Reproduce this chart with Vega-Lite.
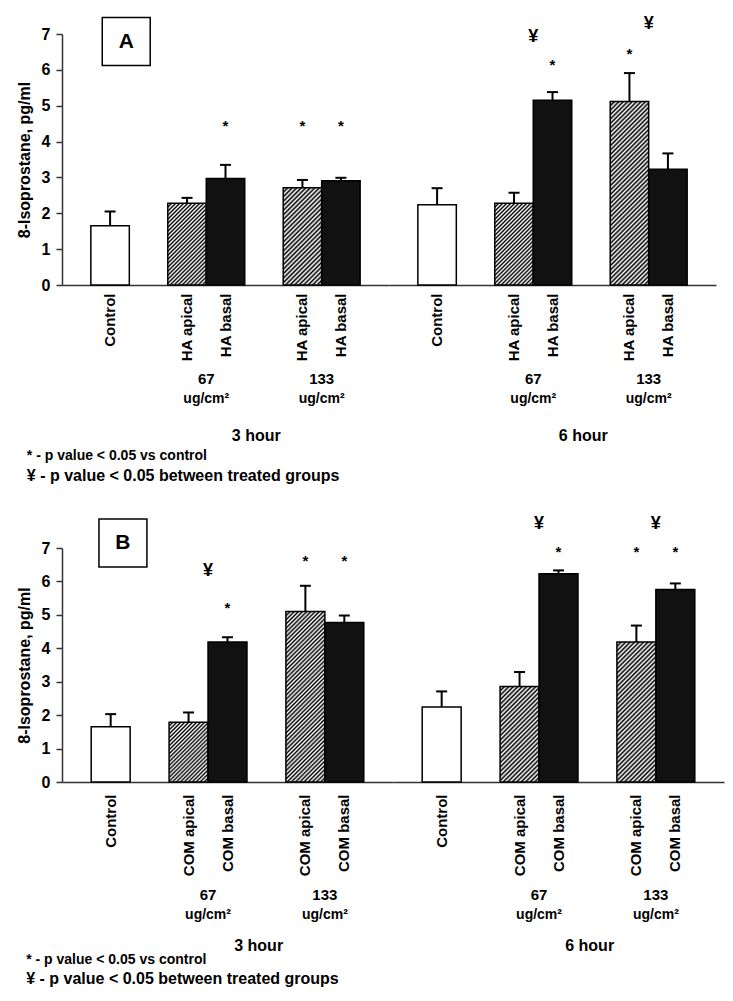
{
"$schema":"https://vega.github.io/schema/vega-lite/v6.json",
"padding":{"left":16,"top":14,"right":5,"bottom":5},
"background":"white",
"bounds":"flush",
"spacing":514,
"config":{"view":{"stroke":null},"font":"Liberation Sans","text":{"font":"Liberation Sans","fontWeight":"bold","color":"black"},
"axisY":{"labelFontSize":16,"labelFontWeight":"bold","labelColor":"black","titleFontSize":16,"titleFontWeight":"bold","titleColor":"black","grid":false,"domainColor":"#333","tickColor":"#333","domainWidth":1.5,"tickWidth":1.5,"tickSize":6,"labelPadding":6,"titlePadding":9,"labelFlush":false,"labelOverlap":false},
"axisX":{"ticks":false,"labelAngle":270,"labelAlign":"right","labelBaseline":"middle","labelFontSize":15,"labelFontWeight":"bold","labelColor":"black","domainColor":"#333","domainWidth":1.5,"labelOverlap":false}},
"datasets":{
"A":[
{"kind":"bar","time":"3 hour","bar":"Control","value":1.65,"hi":2.05},
{"kind":"bar","time":"3 hour","bar":"HA apical_67","value":2.28,"hi":2.43},
{"kind":"bar","time":"3 hour","bar":"HA basal_67","value":2.97,"hi":3.35,"star":4.52},
{"kind":"bar","time":"3 hour","bar":"HA apical_133","value":2.71,"hi":2.93,"star":4.52},
{"kind":"bar","time":"3 hour","bar":"HA basal_133","value":2.91,"hi":2.99,"star":4.52},
{"kind":"bar","time":"6 hour","bar":"Control","value":2.24,"hi":2.70},
{"kind":"bar","time":"6 hour","bar":"HA apical_67","value":2.28,"hi":2.57},
{"kind":"bar","time":"6 hour","bar":"HA basal_67","value":5.15,"hi":5.38,"star":6.21},
{"kind":"bar","time":"6 hour","bar":"HA apical_133","value":5.12,"hi":5.91,"star":6.53},
{"kind":"bar","time":"6 hour","bar":"HA basal_133","value":3.23,"hi":3.67},
{"kind":"yen","time":"6 hour","bar":"HA apical_67","yen":6.91},
{"kind":"yen","time":"6 hour","bar":"HA apical_133","yen":7.28},
{"kind":"box","time":"3 hour","bar":"Control","label":"A"},
{"kind":"dose","time":"3 hour","bar":"HA apical_67","dose":"67"},
{"kind":"dose","time":"3 hour","bar":"HA apical_133","dose":"133"},
{"kind":"dose","time":"6 hour","bar":"HA apical_67","dose":"67"},
{"kind":"dose","time":"6 hour","bar":"HA apical_133","dose":"133"},
{"kind":"hour","time":"3 hour","bar":"_g2"},
{"kind":"hour","time":"6 hour","bar":"_g2"},
{"kind":"note1","time":"3 hour","bar":"Control","note":"*  - p value < 0.05 vs control"},
{"kind":"note2","time":"3 hour","bar":"Control","note":"¥  - p value < 0.05 between treated groups"}
],
"B":[
{"kind":"bar","time":"3 hour","bar":"Control","value":1.65,"hi":2.03},
{"kind":"bar","time":"3 hour","bar":"COM apical_67","value":1.79,"hi":2.08},
{"kind":"bar","time":"3 hour","bar":"COM basal_67","value":4.19,"hi":4.33,"star":5.28},
{"kind":"bar","time":"3 hour","bar":"COM apical_133","value":5.10,"hi":5.87,"star":6.71},
{"kind":"bar","time":"3 hour","bar":"COM basal_133","value":4.77,"hi":4.98,"star":6.71},
{"kind":"bar","time":"6 hour","bar":"Control","value":2.24,"hi":2.71},
{"kind":"bar","time":"6 hour","bar":"COM apical_67","value":2.86,"hi":3.29},
{"kind":"bar","time":"6 hour","bar":"COM basal_67","value":6.23,"hi":6.33,"star":6.96},
{"kind":"bar","time":"6 hour","bar":"COM apical_133","value":4.19,"hi":4.68,"star":6.96},
{"kind":"bar","time":"6 hour","bar":"COM basal_133","value":5.76,"hi":5.94,"star":6.96},
{"kind":"yen","time":"3 hour","bar":"COM apical_67","yen":6.30},
{"kind":"yen","time":"6 hour","bar":"COM apical_67","yen":7.73},
{"kind":"yen","time":"6 hour","bar":"COM apical_133","yen":7.73},
{"kind":"box","time":"3 hour","bar":"Control","label":"B"},
{"kind":"dose","time":"3 hour","bar":"COM apical_67","dose":"67"},
{"kind":"dose","time":"3 hour","bar":"COM apical_133","dose":"133"},
{"kind":"dose","time":"6 hour","bar":"COM apical_67","dose":"67"},
{"kind":"dose","time":"6 hour","bar":"COM apical_133","dose":"133"},
{"kind":"hour","time":"3 hour","bar":"_g2"},
{"kind":"hour","time":"6 hour","bar":"_g2"},
{"kind":"note1","time":"3 hour","bar":"Control","note":"*  - p value < 0.05 vs control"},
{"kind":"note2","time":"3 hour","bar":"Control","note":"¥  - p value < 0.05 between treated groups"}
]
},
"vconcat":[
{
"data":{"name":"A"},
"facet":{"column":{"field":"time","type":"nominal","header":{"title":null,"labels":false}}},
"spacing":0,
"bounds":"flush",
"spec":{
"width":327,"height":251,
"layer":[
{"transform":[{"filter":"datum.kind == 'bar'"}],
"mark":{"type":"bar","stroke":"black","strokeWidth":1.5},
"encoding":{
"x":{"field":"bar","type":"nominal","scale":{"domain":["Control","_g1","HA apical_67","HA basal_67","_g2","HA apical_133","HA basal_133"],"paddingInner":0,"paddingOuter":0.75},
"axis":{"title":null,"labelPadding":8,"labelExpr":"split(datum.value, '_')[0]"}},
"y":{"field":"value","type":"quantitative","scale":{"domain":[0,7],"nice":false},"axis":{"values":[0,1,2,3,4,5,6,7],"title":"8-Isoprostane, pg/ml"}},
"fill":{"value":"white","condition":[
{"test":"indexof(datum.bar, 'basal') >= 0","value":"#111"},
{"test":"datum.bar == 'HA apical_67'","value":{"gradient":"linear","x1":0,"y1":0,"x2":0.5666,"y2":1.204,"stops":[
{"offset":0,"color":"#000"},{"offset":0.0167,"color":"#fff"},{"offset":0.0333,"color":"#000"},{"offset":0.05,"color":"#fff"},{"offset":0.0667,"color":"#000"},{"offset":0.0833,"color":"#fff"},{"offset":0.1,"color":"#000"},{"offset":0.1167,"color":"#fff"},{"offset":0.1333,"color":"#000"},{"offset":0.15,"color":"#fff"},{"offset":0.1667,"color":"#000"},{"offset":0.1833,"color":"#fff"},{"offset":0.2,"color":"#000"},{"offset":0.2167,"color":"#fff"},{"offset":0.2333,"color":"#000"},{"offset":0.25,"color":"#fff"},{"offset":0.2667,"color":"#000"},{"offset":0.2833,"color":"#fff"},{"offset":0.3,"color":"#000"},{"offset":0.3167,"color":"#fff"},{"offset":0.3333,"color":"#000"},{"offset":0.35,"color":"#fff"},{"offset":0.3667,"color":"#000"},{"offset":0.3833,"color":"#fff"},{"offset":0.4,"color":"#000"},{"offset":0.4167,"color":"#fff"},{"offset":0.4333,"color":"#000"},{"offset":0.45,"color":"#fff"},{"offset":0.4667,"color":"#000"},{"offset":0.4833,"color":"#fff"},{"offset":0.5,"color":"#000"},{"offset":0.5167,"color":"#fff"},{"offset":0.5333,"color":"#000"},{"offset":0.55,"color":"#fff"},{"offset":0.5667,"color":"#000"},{"offset":0.5833,"color":"#fff"},{"offset":0.6,"color":"#000"},{"offset":0.6167,"color":"#fff"},{"offset":0.6333,"color":"#000"},{"offset":0.65,"color":"#fff"},{"offset":0.6667,"color":"#000"},{"offset":0.6833,"color":"#fff"},{"offset":0.7,"color":"#000"},{"offset":0.7167,"color":"#fff"},{"offset":0.7333,"color":"#000"},{"offset":0.75,"color":"#fff"},{"offset":0.7667,"color":"#000"},{"offset":0.7833,"color":"#fff"},{"offset":0.8,"color":"#000"},{"offset":0.8167,"color":"#fff"},{"offset":0.8333,"color":"#000"},{"offset":0.85,"color":"#fff"},{"offset":0.8667,"color":"#000"},{"offset":0.8833,"color":"#fff"},{"offset":0.9,"color":"#000"},{"offset":0.9167,"color":"#fff"},{"offset":0.9333,"color":"#000"},{"offset":0.95,"color":"#fff"},{"offset":0.9667,"color":"#000"},{"offset":0.9833,"color":"#fff"},{"offset":1,"color":"#000"}]}},
{"test":"datum.bar == 'HA apical_133' && datum.time == '3 hour'","value":{"gradient":"linear","x1":0,"y1":0,"x2":0.4778,"y2":1.2068,"stops":[
{"offset":0,"color":"#000"},{"offset":0.0167,"color":"#fff"},{"offset":0.0333,"color":"#000"},{"offset":0.05,"color":"#fff"},{"offset":0.0667,"color":"#000"},{"offset":0.0833,"color":"#fff"},{"offset":0.1,"color":"#000"},{"offset":0.1167,"color":"#fff"},{"offset":0.1333,"color":"#000"},{"offset":0.15,"color":"#fff"},{"offset":0.1667,"color":"#000"},{"offset":0.1833,"color":"#fff"},{"offset":0.2,"color":"#000"},{"offset":0.2167,"color":"#fff"},{"offset":0.2333,"color":"#000"},{"offset":0.25,"color":"#fff"},{"offset":0.2667,"color":"#000"},{"offset":0.2833,"color":"#fff"},{"offset":0.3,"color":"#000"},{"offset":0.3167,"color":"#fff"},{"offset":0.3333,"color":"#000"},{"offset":0.35,"color":"#fff"},{"offset":0.3667,"color":"#000"},{"offset":0.3833,"color":"#fff"},{"offset":0.4,"color":"#000"},{"offset":0.4167,"color":"#fff"},{"offset":0.4333,"color":"#000"},{"offset":0.45,"color":"#fff"},{"offset":0.4667,"color":"#000"},{"offset":0.4833,"color":"#fff"},{"offset":0.5,"color":"#000"},{"offset":0.5167,"color":"#fff"},{"offset":0.5333,"color":"#000"},{"offset":0.55,"color":"#fff"},{"offset":0.5667,"color":"#000"},{"offset":0.5833,"color":"#fff"},{"offset":0.6,"color":"#000"},{"offset":0.6167,"color":"#fff"},{"offset":0.6333,"color":"#000"},{"offset":0.65,"color":"#fff"},{"offset":0.6667,"color":"#000"},{"offset":0.6833,"color":"#fff"},{"offset":0.7,"color":"#000"},{"offset":0.7167,"color":"#fff"},{"offset":0.7333,"color":"#000"},{"offset":0.75,"color":"#fff"},{"offset":0.7667,"color":"#000"},{"offset":0.7833,"color":"#fff"},{"offset":0.8,"color":"#000"},{"offset":0.8167,"color":"#fff"},{"offset":0.8333,"color":"#000"},{"offset":0.85,"color":"#fff"},{"offset":0.8667,"color":"#000"},{"offset":0.8833,"color":"#fff"},{"offset":0.9,"color":"#000"},{"offset":0.9167,"color":"#fff"},{"offset":0.9333,"color":"#000"},{"offset":0.95,"color":"#fff"},{"offset":0.9667,"color":"#000"},{"offset":0.9833,"color":"#fff"},{"offset":1,"color":"#000"}]}},
{"test":"datum.bar == 'HA apical_133'","value":{"gradient":"linear","x1":0,"y1":0,"x2":0.2428,"y2":1.1587,"stops":[
{"offset":0,"color":"#000"},{"offset":0.01,"color":"#fff"},{"offset":0.02,"color":"#000"},{"offset":0.03,"color":"#fff"},{"offset":0.04,"color":"#000"},{"offset":0.05,"color":"#fff"},{"offset":0.06,"color":"#000"},{"offset":0.07,"color":"#fff"},{"offset":0.08,"color":"#000"},{"offset":0.09,"color":"#fff"},{"offset":0.1,"color":"#000"},{"offset":0.11,"color":"#fff"},{"offset":0.12,"color":"#000"},{"offset":0.13,"color":"#fff"},{"offset":0.14,"color":"#000"},{"offset":0.15,"color":"#fff"},{"offset":0.16,"color":"#000"},{"offset":0.17,"color":"#fff"},{"offset":0.18,"color":"#000"},{"offset":0.19,"color":"#fff"},{"offset":0.2,"color":"#000"},{"offset":0.21,"color":"#fff"},{"offset":0.22,"color":"#000"},{"offset":0.23,"color":"#fff"},{"offset":0.24,"color":"#000"},{"offset":0.25,"color":"#fff"},{"offset":0.26,"color":"#000"},{"offset":0.27,"color":"#fff"},{"offset":0.28,"color":"#000"},{"offset":0.29,"color":"#fff"},{"offset":0.3,"color":"#000"},{"offset":0.31,"color":"#fff"},{"offset":0.32,"color":"#000"},{"offset":0.33,"color":"#fff"},{"offset":0.34,"color":"#000"},{"offset":0.35,"color":"#fff"},{"offset":0.36,"color":"#000"},{"offset":0.37,"color":"#fff"},{"offset":0.38,"color":"#000"},{"offset":0.39,"color":"#fff"},{"offset":0.4,"color":"#000"},{"offset":0.41,"color":"#fff"},{"offset":0.42,"color":"#000"},{"offset":0.43,"color":"#fff"},{"offset":0.44,"color":"#000"},{"offset":0.45,"color":"#fff"},{"offset":0.46,"color":"#000"},{"offset":0.47,"color":"#fff"},{"offset":0.48,"color":"#000"},{"offset":0.49,"color":"#fff"},{"offset":0.5,"color":"#000"},{"offset":0.51,"color":"#fff"},{"offset":0.52,"color":"#000"},{"offset":0.53,"color":"#fff"},{"offset":0.54,"color":"#000"},{"offset":0.55,"color":"#fff"},{"offset":0.56,"color":"#000"},{"offset":0.57,"color":"#fff"},{"offset":0.58,"color":"#000"},{"offset":0.59,"color":"#fff"},{"offset":0.6,"color":"#000"},{"offset":0.61,"color":"#fff"},{"offset":0.62,"color":"#000"},{"offset":0.63,"color":"#fff"},{"offset":0.64,"color":"#000"},{"offset":0.65,"color":"#fff"},{"offset":0.66,"color":"#000"},{"offset":0.67,"color":"#fff"},{"offset":0.68,"color":"#000"},{"offset":0.69,"color":"#fff"},{"offset":0.7,"color":"#000"},{"offset":0.71,"color":"#fff"},{"offset":0.72,"color":"#000"},{"offset":0.73,"color":"#fff"},{"offset":0.74,"color":"#000"},{"offset":0.75,"color":"#fff"},{"offset":0.76,"color":"#000"},{"offset":0.77,"color":"#fff"},{"offset":0.78,"color":"#000"},{"offset":0.79,"color":"#fff"},{"offset":0.8,"color":"#000"},{"offset":0.81,"color":"#fff"},{"offset":0.82,"color":"#000"},{"offset":0.83,"color":"#fff"},{"offset":0.84,"color":"#000"},{"offset":0.85,"color":"#fff"},{"offset":0.86,"color":"#000"},{"offset":0.87,"color":"#fff"},{"offset":0.88,"color":"#000"},{"offset":0.89,"color":"#fff"},{"offset":0.9,"color":"#000"},{"offset":0.91,"color":"#fff"},{"offset":0.92,"color":"#000"},{"offset":0.93,"color":"#fff"},{"offset":0.94,"color":"#000"},{"offset":0.95,"color":"#fff"},{"offset":0.96,"color":"#000"},{"offset":0.97,"color":"#fff"},{"offset":0.98,"color":"#000"},{"offset":0.99,"color":"#fff"},{"offset":1,"color":"#000"}]}}
]}
}},
{"transform":[{"filter":"datum.kind == 'bar'"}],"mark":{"type":"rule","strokeWidth":2,"color":"black"},
"encoding":{"x":{"field":"bar","type":"nominal","scale":{"domain":["Control","_g1","HA apical_67","HA basal_67","_g2","HA apical_133","HA basal_133"],"paddingInner":0,"paddingOuter":0.75}},
"y":{"field":"value","type":"quantitative","scale":{"domain":[0,7],"nice":false},"axis":{"values":[0,1,2,3,4,5,6,7],"title":"8-Isoprostane, pg/ml"}},"y2":{"field":"hi"}}},
{"transform":[{"filter":"datum.kind == 'bar'"}],"mark":{"type":"tick","size":11,"thickness":2,"color":"black","opacity":1},
"encoding":{"x":{"field":"bar","type":"nominal","scale":{"domain":["Control","_g1","HA apical_67","HA basal_67","_g2","HA apical_133","HA basal_133"],"paddingInner":0,"paddingOuter":0.75}},
"y":{"field":"hi","type":"quantitative","scale":{"domain":[0,7],"nice":false},"axis":{"values":[0,1,2,3,4,5,6,7],"title":"8-Isoprostane, pg/ml"}}}},
{"transform":[{"filter":"datum.kind == 'bar' && isValid(datum.star)"}],"mark":{"type":"text","fontSize":15,"dy":3,"baseline":"middle"},
"encoding":{"x":{"field":"bar","type":"nominal","scale":{"domain":["Control","_g1","HA apical_67","HA basal_67","_g2","HA apical_133","HA basal_133"],"paddingInner":0,"paddingOuter":0.75}},
"y":{"field":"star","type":"quantitative","scale":{"domain":[0,7],"nice":false},"axis":{"values":[0,1,2,3,4,5,6,7],"title":"8-Isoprostane, pg/ml"}},"text":{"value":"*"}}},
{"transform":[{"filter":"datum.kind == 'yen'"}],"mark":{"type":"text","fontSize":18,"baseline":"middle"},
"encoding":{"x":{"field":"bar","type":"nominal","bandPosition":1,"scale":{"domain":["Control","_g1","HA apical_67","HA basal_67","_g2","HA apical_133","HA basal_133"],"paddingInner":0,"paddingOuter":0.75}},
"y":{"field":"yen","type":"quantitative","scale":{"domain":[0,7],"nice":false},"axis":{"values":[0,1,2,3,4,5,6,7],"title":"8-Isoprostane, pg/ml"}},"text":{"value":"¥"}}},
{"transform":[{"filter":"datum.kind == 'box'"}],"mark":{"type":"point","shape":"square","size":2300,"fill":"white","stroke":"black","strokeWidth":1.5,"opacity":1,"filled":false},
"encoding":{"x":{"field":"bar","type":"nominal","bandPosition":0.92,"scale":{"domain":["Control","_g1","HA apical_67","HA basal_67","_g2","HA apical_133","HA basal_133"],"paddingInner":0,"paddingOuter":0.75}},
"y":{"datum":6.79,"type":"quantitative","scale":{"domain":[0,7],"nice":false},"axis":{"values":[0,1,2,3,4,5,6,7],"title":"8-Isoprostane, pg/ml"}}}},
{"transform":[{"filter":"datum.kind == 'box'"}],"mark":{"type":"text","fontSize":21,"baseline":"middle"},
"encoding":{"x":{"field":"bar","type":"nominal","bandPosition":0.92,"scale":{"domain":["Control","_g1","HA apical_67","HA basal_67","_g2","HA apical_133","HA basal_133"],"paddingInner":0,"paddingOuter":0.75}},
"y":{"datum":6.79,"type":"quantitative","scale":{"domain":[0,7],"nice":false},"axis":{"values":[0,1,2,3,4,5,6,7],"title":"8-Isoprostane, pg/ml"}},"text":{"field":"label"}}},
{"transform":[{"filter":"datum.kind == 'dose'"}],"mark":{"type":"text","fontSize":15,"baseline":"middle"},
"encoding":{"x":{"field":"bar","type":"nominal","bandPosition":1,"scale":{"domain":["Control","_g1","HA apical_67","HA basal_67","_g2","HA apical_133","HA basal_133"],"paddingInner":0,"paddingOuter":0.75}},
"y":{"datum":-2.62,"type":"quantitative","scale":{"domain":[0,7],"nice":false},"axis":{"values":[0,1,2,3,4,5,6,7],"title":"8-Isoprostane, pg/ml"}},"text":{"field":"dose"}}},
{"transform":[{"filter":"datum.kind == 'dose'"}],"mark":{"type":"text","fontSize":14,"baseline":"middle"},
"encoding":{"x":{"field":"bar","type":"nominal","bandPosition":1,"scale":{"domain":["Control","_g1","HA apical_67","HA basal_67","_g2","HA apical_133","HA basal_133"],"paddingInner":0,"paddingOuter":0.75}},
"y":{"datum":-3.18,"type":"quantitative","scale":{"domain":[0,7],"nice":false},"axis":{"values":[0,1,2,3,4,5,6,7],"title":"8-Isoprostane, pg/ml"}},"text":{"value":"ug/cm²"}}},
{"transform":[{"filter":"datum.kind == 'hour'"}],"mark":{"type":"text","fontSize":16,"baseline":"middle"},
"encoding":{"x":{"field":"bar","type":"nominal","bandPosition":0.3,"scale":{"domain":["Control","_g1","HA apical_67","HA basal_67","_g2","HA apical_133","HA basal_133"],"paddingInner":0,"paddingOuter":0.75}},
"y":{"datum":-4.2,"type":"quantitative","scale":{"domain":[0,7],"nice":false},"axis":{"values":[0,1,2,3,4,5,6,7],"title":"8-Isoprostane, pg/ml"}},"text":{"field":"time"}}},
{"transform":[{"filter":"datum.kind == 'note1'"}],"mark":{"type":"text","fontSize":14,"baseline":"middle","align":"left","dx":-64},
"encoding":{"x":{"field":"bar","type":"nominal","bandPosition":0,"scale":{"domain":["Control","_g1","HA apical_67","HA basal_67","_g2","HA apical_133","HA basal_133"],"paddingInner":0,"paddingOuter":0.75}},
"y":{"datum":-4.77,"type":"quantitative","scale":{"domain":[0,7],"nice":false},"axis":{"values":[0,1,2,3,4,5,6,7],"title":"8-Isoprostane, pg/ml"}},"text":{"field":"note"}}},
{"transform":[{"filter":"datum.kind == 'note2'"}],"mark":{"type":"text","fontSize":16,"baseline":"middle","align":"left","dx":-64},
"encoding":{"x":{"field":"bar","type":"nominal","bandPosition":0,"scale":{"domain":["Control","_g1","HA apical_67","HA basal_67","_g2","HA apical_133","HA basal_133"],"paddingInner":0,"paddingOuter":0.75}},
"y":{"datum":-5.34,"type":"quantitative","scale":{"domain":[0,7],"nice":false},"axis":{"values":[0,1,2,3,4,5,6,7],"title":"8-Isoprostane, pg/ml"}},"text":{"field":"note"}}}
]}
},
{
"data":{"name":"B"},
"facet":{"column":{"field":"time","type":"nominal","header":{"title":null,"labels":false}}},
"spacing":0,
"bounds":"flush",
"spec":{
"width":331,"height":234,
"layer":[
{"transform":[{"filter":"datum.kind == 'bar'"}],
"mark":{"type":"bar","stroke":"black","strokeWidth":1.5},
"encoding":{
"x":{"field":"bar","type":"nominal","scale":{"domain":["Control","_g1","COM apical_67","COM basal_67","_g2","COM apical_133","COM basal_133"],"paddingInner":0,"paddingOuter":0.75},
"axis":{"title":null,"labelPadding":12,"labelExpr":"split(datum.value, '_')[0]"}},
"y":{"field":"value","type":"quantitative","scale":{"domain":[0,7],"nice":false},"axis":{"values":[0,1,2,3,4,5,6,7],"title":"8-Isoprostane, pg/ml"}},
"fill":{"value":"white","condition":[
{"test":"indexof(datum.bar, 'basal') >= 0","value":"#111"},
{"test":"datum.bar == 'COM apical_67' && datum.time == '3 hour'","value":{"gradient":"linear","x1":0,"y1":0,"x2":0.7546,"y2":1.1596,"stops":[
{"offset":0,"color":"#000"},{"offset":0.02,"color":"#fff"},{"offset":0.04,"color":"#000"},{"offset":0.06,"color":"#fff"},{"offset":0.08,"color":"#000"},{"offset":0.1,"color":"#fff"},{"offset":0.12,"color":"#000"},{"offset":0.14,"color":"#fff"},{"offset":0.16,"color":"#000"},{"offset":0.18,"color":"#fff"},{"offset":0.2,"color":"#000"},{"offset":0.22,"color":"#fff"},{"offset":0.24,"color":"#000"},{"offset":0.26,"color":"#fff"},{"offset":0.28,"color":"#000"},{"offset":0.3,"color":"#fff"},{"offset":0.32,"color":"#000"},{"offset":0.34,"color":"#fff"},{"offset":0.36,"color":"#000"},{"offset":0.38,"color":"#fff"},{"offset":0.4,"color":"#000"},{"offset":0.42,"color":"#fff"},{"offset":0.44,"color":"#000"},{"offset":0.46,"color":"#fff"},{"offset":0.48,"color":"#000"},{"offset":0.5,"color":"#fff"},{"offset":0.52,"color":"#000"},{"offset":0.54,"color":"#fff"},{"offset":0.56,"color":"#000"},{"offset":0.58,"color":"#fff"},{"offset":0.6,"color":"#000"},{"offset":0.62,"color":"#fff"},{"offset":0.64,"color":"#000"},{"offset":0.66,"color":"#fff"},{"offset":0.68,"color":"#000"},{"offset":0.7,"color":"#fff"},{"offset":0.72,"color":"#000"},{"offset":0.74,"color":"#fff"},{"offset":0.76,"color":"#000"},{"offset":0.78,"color":"#fff"},{"offset":0.8,"color":"#000"},{"offset":0.82,"color":"#fff"},{"offset":0.84,"color":"#000"},{"offset":0.86,"color":"#fff"},{"offset":0.88,"color":"#000"},{"offset":0.9,"color":"#fff"},{"offset":0.92,"color":"#000"},{"offset":0.94,"color":"#fff"},{"offset":0.96,"color":"#000"},{"offset":0.98,"color":"#fff"},{"offset":1,"color":"#000"}]}},
{"test":"datum.bar == 'COM apical_133' && datum.time == '3 hour'","value":{"gradient":"linear","x1":0,"y1":0,"x2":0.2667,"y2":1.1675,"stops":[
{"offset":0,"color":"#000"},{"offset":0.01,"color":"#fff"},{"offset":0.02,"color":"#000"},{"offset":0.03,"color":"#fff"},{"offset":0.04,"color":"#000"},{"offset":0.05,"color":"#fff"},{"offset":0.06,"color":"#000"},{"offset":0.07,"color":"#fff"},{"offset":0.08,"color":"#000"},{"offset":0.09,"color":"#fff"},{"offset":0.1,"color":"#000"},{"offset":0.11,"color":"#fff"},{"offset":0.12,"color":"#000"},{"offset":0.13,"color":"#fff"},{"offset":0.14,"color":"#000"},{"offset":0.15,"color":"#fff"},{"offset":0.16,"color":"#000"},{"offset":0.17,"color":"#fff"},{"offset":0.18,"color":"#000"},{"offset":0.19,"color":"#fff"},{"offset":0.2,"color":"#000"},{"offset":0.21,"color":"#fff"},{"offset":0.22,"color":"#000"},{"offset":0.23,"color":"#fff"},{"offset":0.24,"color":"#000"},{"offset":0.25,"color":"#fff"},{"offset":0.26,"color":"#000"},{"offset":0.27,"color":"#fff"},{"offset":0.28,"color":"#000"},{"offset":0.29,"color":"#fff"},{"offset":0.3,"color":"#000"},{"offset":0.31,"color":"#fff"},{"offset":0.32,"color":"#000"},{"offset":0.33,"color":"#fff"},{"offset":0.34,"color":"#000"},{"offset":0.35,"color":"#fff"},{"offset":0.36,"color":"#000"},{"offset":0.37,"color":"#fff"},{"offset":0.38,"color":"#000"},{"offset":0.39,"color":"#fff"},{"offset":0.4,"color":"#000"},{"offset":0.41,"color":"#fff"},{"offset":0.42,"color":"#000"},{"offset":0.43,"color":"#fff"},{"offset":0.44,"color":"#000"},{"offset":0.45,"color":"#fff"},{"offset":0.46,"color":"#000"},{"offset":0.47,"color":"#fff"},{"offset":0.48,"color":"#000"},{"offset":0.49,"color":"#fff"},{"offset":0.5,"color":"#000"},{"offset":0.51,"color":"#fff"},{"offset":0.52,"color":"#000"},{"offset":0.53,"color":"#fff"},{"offset":0.54,"color":"#000"},{"offset":0.55,"color":"#fff"},{"offset":0.56,"color":"#000"},{"offset":0.57,"color":"#fff"},{"offset":0.58,"color":"#000"},{"offset":0.59,"color":"#fff"},{"offset":0.6,"color":"#000"},{"offset":0.61,"color":"#fff"},{"offset":0.62,"color":"#000"},{"offset":0.63,"color":"#fff"},{"offset":0.64,"color":"#000"},{"offset":0.65,"color":"#fff"},{"offset":0.66,"color":"#000"},{"offset":0.67,"color":"#fff"},{"offset":0.68,"color":"#000"},{"offset":0.69,"color":"#fff"},{"offset":0.7,"color":"#000"},{"offset":0.71,"color":"#fff"},{"offset":0.72,"color":"#000"},{"offset":0.73,"color":"#fff"},{"offset":0.74,"color":"#000"},{"offset":0.75,"color":"#fff"},{"offset":0.76,"color":"#000"},{"offset":0.77,"color":"#fff"},{"offset":0.78,"color":"#000"},{"offset":0.79,"color":"#fff"},{"offset":0.8,"color":"#000"},{"offset":0.81,"color":"#fff"},{"offset":0.82,"color":"#000"},{"offset":0.83,"color":"#fff"},{"offset":0.84,"color":"#000"},{"offset":0.85,"color":"#fff"},{"offset":0.86,"color":"#000"},{"offset":0.87,"color":"#fff"},{"offset":0.88,"color":"#000"},{"offset":0.89,"color":"#fff"},{"offset":0.9,"color":"#000"},{"offset":0.91,"color":"#fff"},{"offset":0.92,"color":"#000"},{"offset":0.93,"color":"#fff"},{"offset":0.94,"color":"#000"},{"offset":0.95,"color":"#fff"},{"offset":0.96,"color":"#000"},{"offset":0.97,"color":"#fff"},{"offset":0.98,"color":"#000"},{"offset":0.99,"color":"#fff"},{"offset":1,"color":"#000"}]}},
{"test":"datum.bar == 'COM apical_67'","value":{"gradient":"linear","x1":0,"y1":0,"x2":0.4917,"y2":1.2071,"stops":[
{"offset":0,"color":"#000"},{"offset":0.0167,"color":"#fff"},{"offset":0.0333,"color":"#000"},{"offset":0.05,"color":"#fff"},{"offset":0.0667,"color":"#000"},{"offset":0.0833,"color":"#fff"},{"offset":0.1,"color":"#000"},{"offset":0.1167,"color":"#fff"},{"offset":0.1333,"color":"#000"},{"offset":0.15,"color":"#fff"},{"offset":0.1667,"color":"#000"},{"offset":0.1833,"color":"#fff"},{"offset":0.2,"color":"#000"},{"offset":0.2167,"color":"#fff"},{"offset":0.2333,"color":"#000"},{"offset":0.25,"color":"#fff"},{"offset":0.2667,"color":"#000"},{"offset":0.2833,"color":"#fff"},{"offset":0.3,"color":"#000"},{"offset":0.3167,"color":"#fff"},{"offset":0.3333,"color":"#000"},{"offset":0.35,"color":"#fff"},{"offset":0.3667,"color":"#000"},{"offset":0.3833,"color":"#fff"},{"offset":0.4,"color":"#000"},{"offset":0.4167,"color":"#fff"},{"offset":0.4333,"color":"#000"},{"offset":0.45,"color":"#fff"},{"offset":0.4667,"color":"#000"},{"offset":0.4833,"color":"#fff"},{"offset":0.5,"color":"#000"},{"offset":0.5167,"color":"#fff"},{"offset":0.5333,"color":"#000"},{"offset":0.55,"color":"#fff"},{"offset":0.5667,"color":"#000"},{"offset":0.5833,"color":"#fff"},{"offset":0.6,"color":"#000"},{"offset":0.6167,"color":"#fff"},{"offset":0.6333,"color":"#000"},{"offset":0.65,"color":"#fff"},{"offset":0.6667,"color":"#000"},{"offset":0.6833,"color":"#fff"},{"offset":0.7,"color":"#000"},{"offset":0.7167,"color":"#fff"},{"offset":0.7333,"color":"#000"},{"offset":0.75,"color":"#fff"},{"offset":0.7667,"color":"#000"},{"offset":0.7833,"color":"#fff"},{"offset":0.8,"color":"#000"},{"offset":0.8167,"color":"#fff"},{"offset":0.8333,"color":"#000"},{"offset":0.85,"color":"#fff"},{"offset":0.8667,"color":"#000"},{"offset":0.8833,"color":"#fff"},{"offset":0.9,"color":"#000"},{"offset":0.9167,"color":"#fff"},{"offset":0.9333,"color":"#000"},{"offset":0.95,"color":"#fff"},{"offset":0.9667,"color":"#000"},{"offset":0.9833,"color":"#fff"},{"offset":1,"color":"#000"}]}},
{"test":"datum.bar == 'COM apical_133'","value":{"gradient":"linear","x1":0,"y1":0,"x2":0.3298,"y2":1.1863,"stops":[
{"offset":0,"color":"#000"},{"offset":0.0125,"color":"#fff"},{"offset":0.025,"color":"#000"},{"offset":0.0375,"color":"#fff"},{"offset":0.05,"color":"#000"},{"offset":0.0625,"color":"#fff"},{"offset":0.075,"color":"#000"},{"offset":0.0875,"color":"#fff"},{"offset":0.1,"color":"#000"},{"offset":0.1125,"color":"#fff"},{"offset":0.125,"color":"#000"},{"offset":0.1375,"color":"#fff"},{"offset":0.15,"color":"#000"},{"offset":0.1625,"color":"#fff"},{"offset":0.175,"color":"#000"},{"offset":0.1875,"color":"#fff"},{"offset":0.2,"color":"#000"},{"offset":0.2125,"color":"#fff"},{"offset":0.225,"color":"#000"},{"offset":0.2375,"color":"#fff"},{"offset":0.25,"color":"#000"},{"offset":0.2625,"color":"#fff"},{"offset":0.275,"color":"#000"},{"offset":0.2875,"color":"#fff"},{"offset":0.3,"color":"#000"},{"offset":0.3125,"color":"#fff"},{"offset":0.325,"color":"#000"},{"offset":0.3375,"color":"#fff"},{"offset":0.35,"color":"#000"},{"offset":0.3625,"color":"#fff"},{"offset":0.375,"color":"#000"},{"offset":0.3875,"color":"#fff"},{"offset":0.4,"color":"#000"},{"offset":0.4125,"color":"#fff"},{"offset":0.425,"color":"#000"},{"offset":0.4375,"color":"#fff"},{"offset":0.45,"color":"#000"},{"offset":0.4625,"color":"#fff"},{"offset":0.475,"color":"#000"},{"offset":0.4875,"color":"#fff"},{"offset":0.5,"color":"#000"},{"offset":0.5125,"color":"#fff"},{"offset":0.525,"color":"#000"},{"offset":0.5375,"color":"#fff"},{"offset":0.55,"color":"#000"},{"offset":0.5625,"color":"#fff"},{"offset":0.575,"color":"#000"},{"offset":0.5875,"color":"#fff"},{"offset":0.6,"color":"#000"},{"offset":0.6125,"color":"#fff"},{"offset":0.625,"color":"#000"},{"offset":0.6375,"color":"#fff"},{"offset":0.65,"color":"#000"},{"offset":0.6625,"color":"#fff"},{"offset":0.675,"color":"#000"},{"offset":0.6875,"color":"#fff"},{"offset":0.7,"color":"#000"},{"offset":0.7125,"color":"#fff"},{"offset":0.725,"color":"#000"},{"offset":0.7375,"color":"#fff"},{"offset":0.75,"color":"#000"},{"offset":0.7625,"color":"#fff"},{"offset":0.775,"color":"#000"},{"offset":0.7875,"color":"#fff"},{"offset":0.8,"color":"#000"},{"offset":0.8125,"color":"#fff"},{"offset":0.825,"color":"#000"},{"offset":0.8375,"color":"#fff"},{"offset":0.85,"color":"#000"},{"offset":0.8625,"color":"#fff"},{"offset":0.875,"color":"#000"},{"offset":0.8875,"color":"#fff"},{"offset":0.9,"color":"#000"},{"offset":0.9125,"color":"#fff"},{"offset":0.925,"color":"#000"},{"offset":0.9375,"color":"#fff"},{"offset":0.95,"color":"#000"},{"offset":0.9625,"color":"#fff"},{"offset":0.975,"color":"#000"},{"offset":0.9875,"color":"#fff"},{"offset":1,"color":"#000"}]}}
]}
}},
{"transform":[{"filter":"datum.kind == 'bar'"}],"mark":{"type":"rule","strokeWidth":2,"color":"black"},
"encoding":{"x":{"field":"bar","type":"nominal","scale":{"domain":["Control","_g1","COM apical_67","COM basal_67","_g2","COM apical_133","COM basal_133"],"paddingInner":0,"paddingOuter":0.75}},
"y":{"field":"value","type":"quantitative","scale":{"domain":[0,7],"nice":false},"axis":{"values":[0,1,2,3,4,5,6,7],"title":"8-Isoprostane, pg/ml"}},"y2":{"field":"hi"}}},
{"transform":[{"filter":"datum.kind == 'bar'"}],"mark":{"type":"tick","size":11,"thickness":2,"color":"black","opacity":1},
"encoding":{"x":{"field":"bar","type":"nominal","scale":{"domain":["Control","_g1","COM apical_67","COM basal_67","_g2","COM apical_133","COM basal_133"],"paddingInner":0,"paddingOuter":0.75}},
"y":{"field":"hi","type":"quantitative","scale":{"domain":[0,7],"nice":false},"axis":{"values":[0,1,2,3,4,5,6,7],"title":"8-Isoprostane, pg/ml"}}}},
{"transform":[{"filter":"datum.kind == 'bar' && isValid(datum.star)"}],"mark":{"type":"text","fontSize":15,"dy":3,"baseline":"middle"},
"encoding":{"x":{"field":"bar","type":"nominal","scale":{"domain":["Control","_g1","COM apical_67","COM basal_67","_g2","COM apical_133","COM basal_133"],"paddingInner":0,"paddingOuter":0.75}},
"y":{"field":"star","type":"quantitative","scale":{"domain":[0,7],"nice":false},"axis":{"values":[0,1,2,3,4,5,6,7],"title":"8-Isoprostane, pg/ml"}},"text":{"value":"*"}}},
{"transform":[{"filter":"datum.kind == 'yen'"}],"mark":{"type":"text","fontSize":18,"baseline":"middle"},
"encoding":{"x":{"field":"bar","type":"nominal","bandPosition":1,"scale":{"domain":["Control","_g1","COM apical_67","COM basal_67","_g2","COM apical_133","COM basal_133"],"paddingInner":0,"paddingOuter":0.75}},
"y":{"field":"yen","type":"quantitative","scale":{"domain":[0,7],"nice":false},"axis":{"values":[0,1,2,3,4,5,6,7],"title":"8-Isoprostane, pg/ml"}},"text":{"value":"¥"}}},
{"transform":[{"filter":"datum.kind == 'box'"}],"mark":{"type":"point","shape":"square","size":2300,"fill":"white","stroke":"black","strokeWidth":1.5,"opacity":1,"filled":false},
"encoding":{"x":{"field":"bar","type":"nominal","bandPosition":0.815,"scale":{"domain":["Control","_g1","COM apical_67","COM basal_67","_g2","COM apical_133","COM basal_133"],"paddingInner":0,"paddingOuter":0.75}},
"y":{"datum":7.15,"type":"quantitative","scale":{"domain":[0,7],"nice":false},"axis":{"values":[0,1,2,3,4,5,6,7],"title":"8-Isoprostane, pg/ml"}}}},
{"transform":[{"filter":"datum.kind == 'box'"}],"mark":{"type":"text","fontSize":21,"baseline":"middle"},
"encoding":{"x":{"field":"bar","type":"nominal","bandPosition":0.815,"scale":{"domain":["Control","_g1","COM apical_67","COM basal_67","_g2","COM apical_133","COM basal_133"],"paddingInner":0,"paddingOuter":0.75}},
"y":{"datum":7.15,"type":"quantitative","scale":{"domain":[0,7],"nice":false},"axis":{"values":[0,1,2,3,4,5,6,7],"title":"8-Isoprostane, pg/ml"}},"text":{"field":"label"}}},
{"transform":[{"filter":"datum.kind == 'dose'"}],"mark":{"type":"text","fontSize":15,"baseline":"middle"},
"encoding":{"x":{"field":"bar","type":"nominal","bandPosition":1,"scale":{"domain":["Control","_g1","COM apical_67","COM basal_67","_g2","COM apical_133","COM basal_133"],"paddingInner":0,"paddingOuter":0.75}},
"y":{"datum":-3.39,"type":"quantitative","scale":{"domain":[0,7],"nice":false},"axis":{"values":[0,1,2,3,4,5,6,7],"title":"8-Isoprostane, pg/ml"}},"text":{"field":"dose"}}},
{"transform":[{"filter":"datum.kind == 'dose'"}],"mark":{"type":"text","fontSize":14,"baseline":"middle"},
"encoding":{"x":{"field":"bar","type":"nominal","bandPosition":1,"scale":{"domain":["Control","_g1","COM apical_67","COM basal_67","_g2","COM apical_133","COM basal_133"],"paddingInner":0,"paddingOuter":0.75}},
"y":{"datum":-3.98,"type":"quantitative","scale":{"domain":[0,7],"nice":false},"axis":{"values":[0,1,2,3,4,5,6,7],"title":"8-Isoprostane, pg/ml"}},"text":{"value":"ug/cm²"}}},
{"transform":[{"filter":"datum.kind == 'hour'"}],"mark":{"type":"text","fontSize":16,"baseline":"middle"},
"encoding":{"x":{"field":"bar","type":"nominal","bandPosition":0.3,"scale":{"domain":["Control","_g1","COM apical_67","COM basal_67","_g2","COM apical_133","COM basal_133"],"paddingInner":0,"paddingOuter":0.75}},
"y":{"datum":-4.91,"type":"quantitative","scale":{"domain":[0,7],"nice":false},"axis":{"values":[0,1,2,3,4,5,6,7],"title":"8-Isoprostane, pg/ml"}},"text":{"field":"time"}}},
{"transform":[{"filter":"datum.kind == 'note1'"}],"mark":{"type":"text","fontSize":14,"baseline":"middle","align":"left","dx":-65},
"encoding":{"x":{"field":"bar","type":"nominal","bandPosition":0,"scale":{"domain":["Control","_g1","COM apical_67","COM basal_67","_g2","COM apical_133","COM basal_133"],"paddingInner":0,"paddingOuter":0.75}},
"y":{"datum":-5.32,"type":"quantitative","scale":{"domain":[0,7],"nice":false},"axis":{"values":[0,1,2,3,4,5,6,7],"title":"8-Isoprostane, pg/ml"}},"text":{"field":"note"}}},
{"transform":[{"filter":"datum.kind == 'note2'"}],"mark":{"type":"text","fontSize":16,"baseline":"middle","align":"left","dx":-65},
"encoding":{"x":{"field":"bar","type":"nominal","bandPosition":0,"scale":{"domain":["Control","_g1","COM apical_67","COM basal_67","_g2","COM apical_133","COM basal_133"],"paddingInner":0,"paddingOuter":0.75}},
"y":{"datum":-5.9,"type":"quantitative","scale":{"domain":[0,7],"nice":false},"axis":{"values":[0,1,2,3,4,5,6,7],"title":"8-Isoprostane, pg/ml"}},"text":{"field":"note"}}}
]}
}
]
}
